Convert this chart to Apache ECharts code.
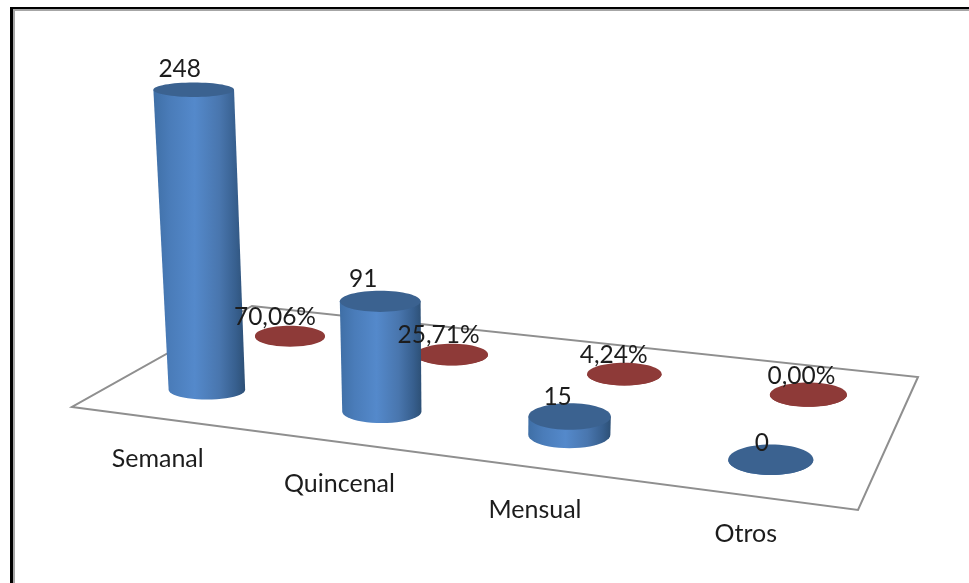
<!DOCTYPE html>
<html>
<head>
<meta charset="utf-8">
<style>html,body{margin:0;padding:0;background:#fff}#chart{width:969px;height:583px}</style>
<script src="https://cdn.jsdelivr.net/npm/echarts@6/dist/echarts.min.js"></script>
</head>
<body>
<div id="chart"></div>
<script>
// Frecuencia de compra: cantidades y porcentajes
const categories = ['Semanal', 'Quincenal', 'Mensual', 'Otros'];
const cantidades = [248, 91, 15, 0];
const porcentajes = [70.06, 25.71, 4.24, 0.00];

// Floor of the 3D plot as seen on screen, and its perspective mapping
const floorQuad = [[72, 407], [858, 510], [918, 377], [252, 306]];
const projection = (function (q) {
  const [x0, y0] = q[0], [x1, y1] = q[1], [x2, y2] = q[2], [x3, y3] = q[3];
  const dx1 = x1 - x2, dx2 = x3 - x2, sx = x0 - x1 + x2 - x3;
  const dy1 = y1 - y2, dy2 = y3 - y2, sy = y0 - y1 + y2 - y3;
  const den = dx1 * dy2 - dx2 * dy1;
  const g = (sx * dy2 - dx2 * sy) / den, h = (dx1 * sy - sx * dy1) / den;
  const a = x1 - x0 + g * x1, b = x3 - x0 + h * x3;
  const d = y1 - y0 + g * y1, e = y3 - y0 + h * y3;
  return function (s, t) {
    const w = g * s + h * t + 1;
    return [(a * s + b * t + x0) / w, (d * s + e * t + y0) / w];
  };
})(floorQuad);

const sideBlue = [
  { offset: 0, color: '#3f6fa6' }, { offset: 0.18, color: '#4a7cb9' },
  { offset: 0.45, color: '#5489cb' }, { offset: 0.72, color: '#4976ae' },
  { offset: 0.9, color: '#375f8e' }, { offset: 1, color: '#2d5076' }
];
const sideRed = [{ offset: 0, color: '#8e3a38' }, { offset: 1, color: '#8e3a38' }];
const textColor = '#1c1c1c';
const fontFamily = 'Lato, "Open Sans", sans-serif';
const valueFontSize = 24.5;
const categoryFontSize = 25;

// Builds one cylinder standing on the floor at a category position
function cylinder(params, api, look) {
  const cat = api.value(0);
  const value = api.value(1);
  const sys = params.coordSys;
  const foot = api.coord([cat, 0]);
  const head = api.coord([cat, value]);
  const h = foot[1] - head[1];
  const s = (foot[0] - sys.x) / sys.width;
  const floorPoint = projection(s, look.depth);
  const base = [floorPoint[0] + look.shiftX, floorPoint[1]];
  const rx = 35 + 0.062 * (base[1] - 337);
  const ry = look.ry + look.ryStep * cat;
  // verticals lean slightly towards a vanishing point below the plot
  const top = [base[0] + h * (base[0] - 470) * 0.000167, base[1] - h];
  const topRx = rx * (1 + h * 0.00018);
  const topRy = ry * (1 - h * 0.0009);
  const side = [];
  for (let k = 0; k <= 24; k++) {
    const a = Math.PI * k / 24;
    side.push([base[0] + rx * Math.cos(a), base[1] + ry * Math.sin(a)]);
  }
  side.push([top[0] - topRx, top[1]], [top[0] + topRx, top[1]]);
  return {
    type: 'group',
    children: [
      {
        type: 'polygon', z2: look.z,
        shape: { points: side },
        style: { fill: { type: 'linear', x: 0, y: 0, x2: 1, y2: 0, colorStops: look.side } }
      },
      {
        type: 'ellipse', z2: look.z + 1,
        shape: { cx: top[0], cy: top[1], rx: topRx, ry: topRy },
        style: { fill: look.cap }
      },
      {
        type: 'text', z2: 20,
        x: top[0] + look.dx[cat], y: top[1] + look.dy[cat],
        style: {
          text: look.format(look.label(cat)), fill: textColor,
          font: valueFontSize + 'px ' + fontFamily,
          align: 'center', verticalAlign: 'middle'
        }
      }
    ]
  };
}

const blueLook = {
  z: 10, depth: 0.24, shiftX: 2.5, ry: 9.9, ryStep: 1.8, side: sideBlue, cap: '#3b6290',
  dx: [-14, -17, -12, -9], dy: [-21, -22, -19, -17],
  label: i => cantidades[i], format: v => String(v)
};
const redLook = {
  z: 2, depth: 0.75, shiftX: 0, ry: 10, ryStep: 0.7, side: sideRed, cap: '#8e3a38',
  dx: [-15, -13.3, -10.6, -7], dy: [-19, -19, -19, -19],
  label: i => porcentajes[i], format: v => v.toFixed(2).replace('.', ',') + '%'
};
const categoryOffsetY = [41, 42, 42, 39];

const option = {
  animation: false,
  backgroundColor: '#ffffff',
  grid: { left: 72, top: 91, width: 840, height: 300, containLabel: false },
  xAxis: { type: 'category', data: categories, show: false },
  yAxis: { type: 'value', min: 0, max: 248, show: false },
  graphic: [
    { type: 'rect', shape: { x: 10, y: 7, width: 959, height: 2 }, style: { fill: '#000' }, z: 0 },
    { type: 'rect', shape: { x: 12, y: 9, width: 957, height: 2 }, style: { fill: '#a6a6a6' }, z: 0 },
    { type: 'rect', shape: { x: 10, y: 7, width: 3, height: 576 }, style: { fill: '#000' }, z: 0 },
    { type: 'rect', shape: { x: 13, y: 9, width: 2, height: 574 }, style: { fill: '#a6a6a6' }, z: 0 }
  ],
  series: [
    {
      // floor outline and the category names in front of it
      type: 'custom', z: 2, silent: true,
      data: categories.map((c, i) => [i, 0]),
      encode: { x: 0, y: 1 },
      clip: false,
      renderItem(params, api) {
        const cat = api.value(0);
        const sys = params.coordSys;
        const s = (api.coord([cat, 0])[0] - sys.x) / sys.width;
        const edge = projection(s, 0);
        const children = [{
          type: 'text', z2: 20,
          x: edge[0] - 0.5, y: edge[1] + categoryOffsetY[cat],
          style: {
            text: categories[cat], fill: textColor,
            font: categoryFontSize + 'px ' + fontFamily,
            align: 'center', verticalAlign: 'middle'
          }
        }];
        if (params.dataIndex === 0) {
          children.unshift({
            type: 'polygon', z2: 1,
            shape: { points: floorQuad },
            style: { fill: '#ffffff', stroke: '#8f8f8f', lineWidth: 2 }
          });
        }
        return { type: 'group', children: children };
      }
    },
    {
      name: 'Porcentaje', type: 'custom', z: 2, clip: false,
      data: porcentajes.map((p, i) => [i, p / 100]),
      encode: { x: 0, y: 1 },
      renderItem: (params, api) => cylinder(params, api, redLook)
    },
    {
      name: 'Cantidad', type: 'custom', z: 2, clip: false,
      data: cantidades.map((v, i) => [i, v]),
      encode: { x: 0, y: 1 },
      renderItem: (params, api) => cylinder(params, api, blueLook)
    }
  ]
};

echarts.init(document.getElementById('chart'), null, { renderer: 'canvas' }).setOption(option);
</script>
</body>
</html>
